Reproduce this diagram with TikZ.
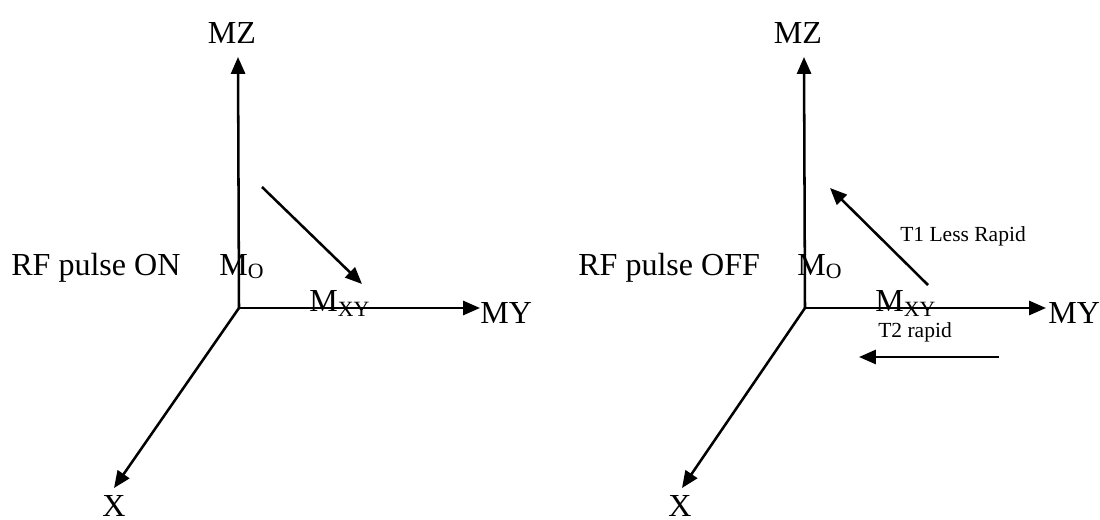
\documentclass[tikz,border=0pt]{standalone}
\usepackage{fontspec}
\setmainfont{Liberation Serif}
\usetikzlibrary{arrows.meta}
\tikzset{
  axis/.style={line width=1.8pt, -{Triangle[length=12pt,width=10pt]}},
  lbl/.style={inner sep=0pt, font=\fontsize{22.8}{27}\selectfont},
  note/.style={inner sep=0pt, font=\fontsize{15.3}{18}\selectfont},
}
\newcommand{\msub}[2]{M\raisebox{-#1}{\fontsize{15.5}{16}\selectfont #2}}
\begin{document}
\begin{tikzpicture}[x=0.025cm, y=-0.025cm]
\useasboundingbox (0,0) rectangle (1100,520);
% RF pulse ON
\coordinate (o1) at (239,308);
\coordinate (z1) at (238,57);
\coordinate (y1) at (480,308);
\coordinate (x1) at (114,488);
\draw[axis] (o1) -- (z1);
\draw[axis] (o1) -- (y1);
\draw[axis] (o1) -- (x1);
\node[lbl, anchor=base] (mz1) at (232,43) {MZ};
\node[lbl, anchor=base west] (my1) at (480,323) {MY};
\node[lbl, anchor=base] (xx1) at (114,516) {X};
\node[lbl, anchor=base west] (rf1) at (11,275) {RF pulse ON};
\node[lbl, anchor=base west] (mo1) at (219,275) {\msub{2.5pt}{O}};
\node[lbl, anchor=base west] (mxy1) at (309,311) {\msub{4pt}{XY}};
\coordinate (a1) at (262,187);
\coordinate (b1) at (362,284);
\draw[axis] (a1) -- (b1);
% RF pulse OFF
\coordinate (o2) at (805,308);
\coordinate (z2) at (804,57);
\coordinate (y2) at (1046,308);
\coordinate (x2) at (682,488);
\draw[axis] (o2) -- (z2);
\draw[axis] (o2) -- (y2);
\draw[axis] (o2) -- (x2);
\node[lbl, anchor=base] (mz2) at (798,43) {MZ};
\node[lbl, anchor=base west] (my2) at (1048,323) {MY};
\node[lbl, anchor=base] (xx2) at (680,516) {X};
\node[lbl, anchor=base west] (rf2) at (578,275) {RF pulse OFF};
\node[lbl, anchor=base west] (mo2) at (797,275) {\msub{2.5pt}{O}};
\node[lbl, anchor=base west] (mxy2) at (875,311) {\msub{4pt}{XY}};
\node[note, anchor=base west] (t1) at (900,241) {T1 Less Rapid};
\node[note, anchor=base west] (t2) at (878,337) {T2 rapid};
\coordinate (a2) at (928,285);
\coordinate (b2) at (830,188);
\draw[axis] (a2) -- (b2);
\coordinate (c2) at (999,357);
\coordinate (d2) at (859,357);
\draw[axis] (c2) -- (d2);
\end{tikzpicture}
\end{document}
